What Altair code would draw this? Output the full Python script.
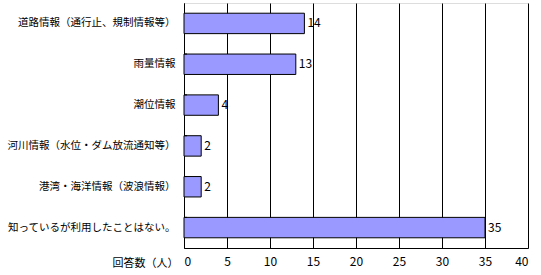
import altair as alt
import pandas as pd

categories = [
    "道路情報（通行止、規制情報等）",
    "雨量情報",
    "潮位情報",
    "河川情報（水位・ダム放流通知等）",
    "港湾・海洋情報（波浪情報）",
    "知っているが利用したことはない。",
]
values = [14, 13, 4, 2, 2, 35]
x_ticks = [0, 5, 10, 15, 20, 25, 30, 35, 40]

df = pd.DataFrame({"cat": categories, "val": values})
inner = pd.DataFrame({"cat": categories[1:]})

FONT = "Noto Sans CJK JP"

y_enc = alt.Y("cat:N", sort=categories, scale=alt.Scale(paddingInner=0.5, paddingOuter=0.25),
              axis=alt.Axis(title=None, ticks=False, labelFontSize=10.5, labelFont=FONT,
                            labelColor="black", labelPadding=9, domainColor="black",
                            labelLimit=300))
x_enc = alt.X("val:Q", scale=alt.Scale(domain=[0, 40], nice=False),
              axis=alt.Axis(values=x_ticks, title="回答数（人）", grid=True, gridColor="black",
                            gridOpacity=1, ticks=False, domainColor="black",
                            labelFont=FONT, labelFontSize=12, labelColor="black",
                            labelPadding=8, titleFont=FONT, titleFontSize=11,
                            titleFontWeight="normal", titleColor="black",
                            titleAnchor="start", titleAlign="right", titleX=-6,
                            titleY=15, titleBaseline="middle"))

bars = alt.Chart(df).mark_bar(color="#9999FF", stroke="black", strokeWidth=1).encode(
    x=x_enc, y=y_enc)

text = alt.Chart(df).mark_text(align="left", baseline="middle", dx=3, font=FONT,
                               fontSize=12, color="black").encode(
    x="val:Q", y=alt.Y("cat:N", sort=categories), text="val:Q")

ticks = alt.Chart(inner).mark_rule(color="black").encode(
    y=alt.Y("cat:N", sort=categories, bandPosition=0),
    x=alt.value(0), x2=alt.value(3))

chart = alt.layer(bars, text, ticks).properties(
    width=344, height=245,
    autosize=alt.AutoSizeParams(type="none"),
    padding={"left": 184, "top": 3, "right": 13, "bottom": 27},
).configure_view(stroke="black", strokeWidth=1).configure(background="white")

chart.save("out.html", embed_options={"renderer": "svg", "actions": False})
